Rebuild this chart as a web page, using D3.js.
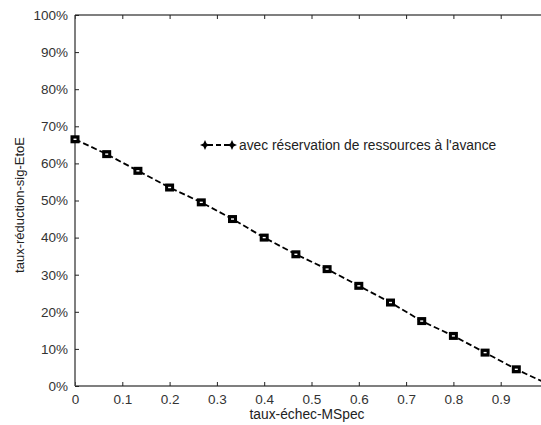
<!DOCTYPE html>
<html><head><meta charset="utf-8">
<script src="https://cdn.jsdelivr.net/npm/d3@7"></script>
<style>body{margin:0;background:#fff}svg{display:block}</style>
</head><body>
<svg id="c" width="541" height="425"></svg>
<script>
const xValues = [0, 0.067, 0.133, 0.2, 0.267, 0.333, 0.4, 0.467, 0.533, 0.6, 0.667, 0.733, 0.8, 0.867, 0.933, 1.0];
const yValues = [66.5, 62.5, 58.0, 53.5, 49.5, 45.0, 40.0, 35.5, 31.5, 27.0, 22.5, 17.5, 13.5, 9.0, 4.5, 0.5];
const xTicks = [0, 0.1, 0.2, 0.3, 0.4, 0.5, 0.6, 0.7, 0.8, 0.9];
const yTicks = [0, 10, 20, 30, 40, 50, 60, 70, 80, 90, 100];
const seriesName = "avec réservation de ressources à l'avance";
const xLabel = "taux-échec-MSpec";
const yLabel = "taux-réduction-sig-EtoE";

const svg = d3.select("#c");
const font = "'Liberation Sans', Arial, sans-serif";
const x = d3.scaleLinear().domain([0, 1]).range([75, 548]);
const y = d3.scaleLinear().domain([0, 100]).range([386, 15]);
const axisColor = "#555";

const gx = svg.append("g").attr("transform", `translate(0,${y(0)})`)
  .call(d3.axisBottom(x).tickValues(xTicks).tickSizeInner(-4).tickSizeOuter(0).tickPadding(8)
    .tickFormat(d => d === 0 ? "0" : d3.format(".1f")(d)));
const gt = svg.append("g").attr("transform", `translate(0,${y(100)})`)
  .call(d3.axisTop(x).tickValues(xTicks).tickSizeInner(-4).tickSizeOuter(0).tickFormat(""));
const gy = svg.append("g").attr("transform", `translate(${x(0)},0)`)
  .call(d3.axisLeft(y).tickValues(yTicks).tickSizeInner(-4).tickSizeOuter(0).tickPadding(7)
    .tickFormat(d => d + "%"));
[gx, gt, gy].forEach(g => {
  g.select(".domain").attr("stroke", axisColor).attr("stroke-width", 1.5);
  g.selectAll(".tick line").attr("stroke", "#222").attr("stroke-width", 1);
  g.selectAll(".tick text").attr("fill", "#333").style("font-family", font).style("font-size", "13.5px");
});
gx.selectAll(".tick text").attr("dy", "0.71em");
gy.select(".domain").attr("d", `M0,${y(0)}V${y(100)}`);
gx.select(".domain").attr("d", `M${x(0)},0H541`);
gt.select(".domain").attr("d", `M${x(0)},0H541`);

const data = xValues.map((v, i) => [v, yValues[i]]);
svg.append("path").datum(data)
  .attr("fill", "none").attr("stroke", "#000").attr("stroke-width", 1.8)
  .attr("stroke-dasharray", "6,3")
  .attr("d", d3.line().x(d => x(d[0])).y(d => y(d[1])));
const m = svg.append("g").selectAll("g").data(data).join("g")
  .attr("transform", d => `translate(${x(d[0])},${y(d[1])})`);
m.append("rect").attr("x", -4.5).attr("y", -4).attr("width", 9).attr("height", 8).attr("fill", "#000");
m.append("rect").attr("x", -1.5).attr("y", -0.7).attr("width", 3).attr("height", 1.4).attr("fill", "#fff");

// legend
const lg = svg.append("g");
lg.append("line").attr("x1", 205).attr("x2", 232).attr("y1", 145).attr("y2", 145)
  .attr("stroke", "#000").attr("stroke-width", 1.8).attr("stroke-dasharray", "5,3").attr("stroke-dashoffset", -3);
const starPath = "M0,-5 L1.6,-1.6 L5,0 L1.6,1.6 L0,5 L-1.6,1.6 L-5,0 L-1.6,-1.6 Z";
[205, 232].forEach(px => lg.append("path").attr("d", starPath).attr("transform", `translate(${px},145)`).attr("fill", "#000"));
lg.append("text").attr("x", 239).attr("y", 150).text(seriesName)
  .attr("fill", "#222").style("font-family", font).style("font-size", "13.8px");

svg.append("text").attr("x", 307).attr("y", 419).attr("text-anchor", "middle")
  .text(xLabel).attr("fill", "#222").style("font-family", font).style("font-size", "13.8px");
svg.append("text").attr("transform", "translate(24,205) rotate(-90)").attr("text-anchor", "middle")
  .text(yLabel).attr("fill", "#222").style("font-family", font).style("font-size", "13px");
</script>
</body></html>
